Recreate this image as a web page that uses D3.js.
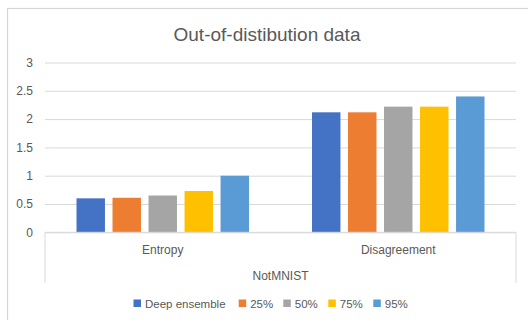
<!DOCTYPE html>
<html>
<head>
<meta charset="utf-8">
<script src="https://cdn.jsdelivr.net/npm/d3@7"></script>
<style>
  html, body { margin: 0; padding: 0; background: #fff; }
  svg { display: block; font-family: "Liberation Sans", Arial, sans-serif; }
</style>
</head>
<body>
<svg id="chart" width="528" height="320"></svg>
<script>
// Chart data
const categories = ["Entropy", "Disagreement"];
const groupLabel = "NotMNIST";
const seriesNames = ["Deep ensemble", "25%", "50%", "75%", "95%"];
const entropyValues = [0.60, 0.61, 0.65, 0.73, 1.00];
const disagreementValues = [2.12, 2.12, 2.22, 2.22, 2.40];
const yTicks = [0, 0.5, 1, 1.5, 2, 2.5, 3];
const seriesColors = ["#4472c4", "#ed7d31", "#a5a5a5", "#ffc000", "#5b9bd5"];

const valuesByCategory = { "Entropy": entropyValues, "Disagreement": disagreementValues };

const svg = d3.select("#chart");
const plotLeft = 45, plotRight = 516, plotTop = 62.5, plotBottom = 232.3;
const textColor = "#595959", lineColor = "#d9d9d9";

// Outer chart frame
svg.append("rect")
  .attr("x", 7.5).attr("y", 8.5).attr("width", 600).attr("height", 400)
  .attr("fill", "#fff").attr("stroke", "#d6d6d6").attr("stroke-width", 1.2);

// Title
svg.append("text")
  .attr("x", 267).attr("y", 41)
  .attr("text-anchor", "middle")
  .attr("font-size", 19).attr("fill", textColor)
  .text("Out-of-distibution data");

// Scales
const y = d3.scaleLinear().domain([0, 3]).range([plotBottom, plotTop]);
const x0 = d3.scaleBand().domain(categories).range([plotLeft, plotRight]).padding(0);
const groupFrac = 0.7325;
const inset = x0.bandwidth() * (1 - groupFrac) / 2;
const x1 = d3.scaleBand().domain(seriesNames)
  .range([inset, x0.bandwidth() - inset]).paddingInner(0.21).paddingOuter(0);

// Gridlines and value labels
const yAxis = d3.axisLeft(y).tickValues(yTicks).tickSize(-(plotRight - plotLeft)).tickPadding(12)
  .tickFormat(d => String(d));
const gy = svg.append("g").attr("transform", `translate(${plotLeft},0)`).call(yAxis);
gy.select(".domain").remove();
gy.selectAll(".tick line").attr("stroke", lineColor).attr("stroke-width", 1);
gy.selectAll(".tick text").attr("fill", textColor).attr("font-size", 12)
  .attr("font-family", "Liberation Sans, Arial, sans-serif");

// Bars
const groups = svg.append("g").selectAll("g")
  .data(categories).join("g")
  .attr("transform", d => `translate(${x0(d)},0)`);
groups.selectAll("rect")
  .data(c => valuesByCategory[c].map((v, i) => ({ name: seriesNames[i], value: v, color: seriesColors[i] })))
  .join("rect")
  .attr("x", d => x1(d.name))
  .attr("width", x1.bandwidth())
  .attr("y", d => y(d.value))
  .attr("height", d => y(0) - y(d.value))
  .attr("fill", d => d.color);

// Multi-level category axis box
const axisBottom = 283;
svg.append("path")
  .attr("d", `M${plotLeft},${axisBottom}V${y(0)}H${plotRight}V${axisBottom}`)
  .attr("fill", "none").attr("stroke", lineColor).attr("stroke-width", 1);

svg.append("g").selectAll("text").data(categories).join("text")
  .attr("x", d => x0(d) + x0.bandwidth() / 2)
  .attr("y", 254)
  .attr("text-anchor", "middle").attr("font-size", 12).attr("fill", textColor)
  .text(d => d);

svg.append("text")
  .attr("x", (plotLeft + plotRight) / 2).attr("y", 280)
  .attr("text-anchor", "middle").attr("font-size", 12).attr("fill", textColor)
  .text(groupLabel);

// Legend
const legendX = [133.5, 238.7, 283.3, 328.3, 373.3];
const legend = svg.append("g").selectAll("g").data(seriesNames).join("g")
  .attr("transform", (d, i) => `translate(${legendX[i]},299.5)`);
legend.append("rect").attr("width", 7.5).attr("height", 7.5)
  .attr("fill", (d, i) => seriesColors[i]);
legend.append("text").attr("x", 11.5).attr("y", 8.5)
  .attr("font-size", 11.5).attr("fill", textColor)
  .text(d => d);
</script>
</body>
</html>
